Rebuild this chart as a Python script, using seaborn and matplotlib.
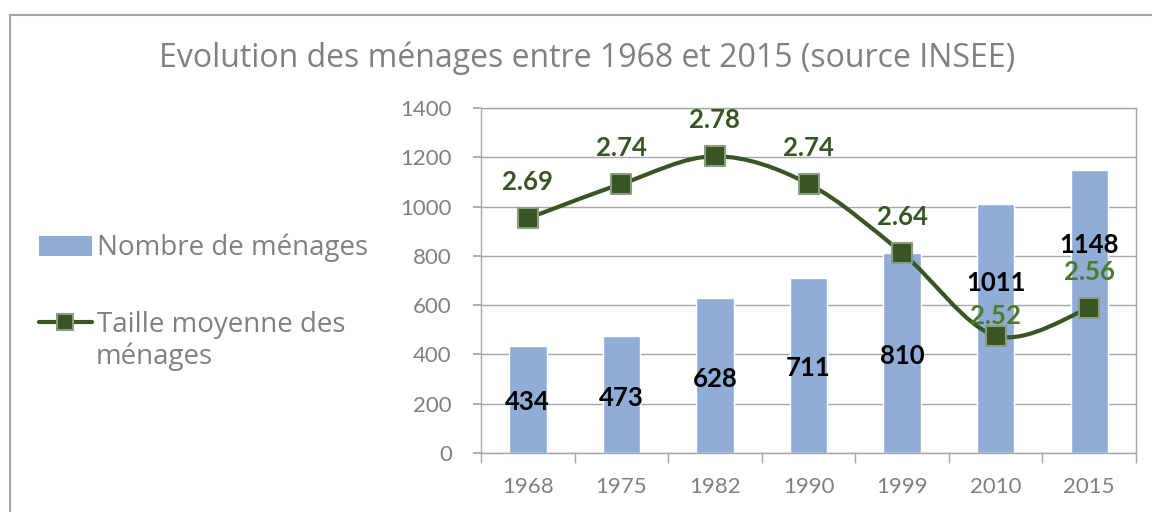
import matplotlib
matplotlib.use('Agg')
import matplotlib.pyplot as plt
import numpy as np
import pandas as pd
import seaborn as sns
from matplotlib.path import Path
from matplotlib.patches import PathPatch, Patch
from matplotlib.lines import Line2D

sns.set_theme(style='white')
plt.rcParams['font.family'] = ['Lato', 'DejaVu Sans']

# données INSEE
annees = ['1968', '1975', '1982', '1990', '1999', '2010', '2015']
nb_menages = [434, 473, 628, 711, 810, 1011, 1148]
taille_moy = [2.69, 2.74, 2.78, 2.74, 2.64, 2.52, 2.56]

df = pd.DataFrame({'annee': annees, 'menages': nb_menages, 'taille': taille_moy})
df['pos'] = np.arange(len(df))

bar_col = '#8FADD6'
vert = '#375623'
gris = '#808080'
grille = '#A6A6A6'
titre_font = ['Open Sans', 'DejaVu Sans']

fig = plt.figure(figsize=(11.52, 5.12), dpi=100)
ax = fig.add_axes([481/1152, 1-453/512, (1136-481)/1152, (453-108)/512])

sns.barplot(data=df, x='annee', y='menages', color=bar_col, width=0.4,
            saturation=1, ax=ax, zorder=2)
ax.set_xlim(-0.5, 6.5)
ax.set_ylim(0, 1400)
ax.set_yticks(range(0, 1401, 200))
ax.set_xlabel('')
ax.set_ylabel('')
ax.grid(axis='y', color=grille, lw=1, zorder=0)
ax.set_axisbelow(True)
for s in ['left', 'bottom', 'right', 'top']:
    ax.spines[s].set_color(grille)
    ax.spines[s].set_linewidth(1)
ax.tick_params(axis='y', length=6, color=grille, labelsize=16, labelcolor=gris, pad=15, left=True)
ax.tick_params(axis='x', which='major', length=0, labelsize=16, labelcolor=gris, pad=17)
ax.set_xticks(np.arange(-0.5, 7, 1), minor=True)
ax.tick_params(axis='x', which='minor', length=7, color=grille, bottom=True)

# étiquettes des barres (1011 et 1148 déplacées comme dans l'original)
label_y = {5: 690, 6: 844}
for i, v in enumerate(nb_menages):
    ax.text(i, label_y.get(i, v / 2 - 12), str(v), ha='center', va='center',
            fontsize=18.5, fontweight='bold', color='black', zorder=5)

# axe secondaire (caché) pour la taille moyenne
ax2 = ax.twinx()
ax2.set_ylim(2.35, 2.85)
ax2.set_yticks([])
for s in ax2.spines.values():
    s.set_visible(False)

# courbe lissée (Catmull-Rom -> Bezier) comme Excel
xs = df['pos'].to_numpy(float)
ys = df['taille'].to_numpy(float)
P = np.column_stack([xs, ys])
verts = [P[0]]
codes = [Path.MOVETO]
n = len(P)
for i in range(n - 1):
    p0 = P[max(i - 1, 0)]
    p1 = P[i]
    p2 = P[i + 1]
    p3 = P[min(i + 2, n - 1)]
    c1 = p1 + (p2 - p0) / 6
    c2 = p2 - (p3 - p1) / 6
    verts += [c1, c2, p2]
    codes += [Path.CURVE4] * 3
ax2.add_patch(PathPatch(Path(verts, codes), fill=False, edgecolor=vert, lw=3, zorder=3))
sns.scatterplot(data=df, x='pos', y='taille', marker='s', s=220, color=vert,
                edgecolor='#8C9C80', linewidth=1.5, ax=ax2, zorder=4, legend=False)
ax2.set_xlabel('')
ax2.set_ylabel('')
ax2.set_xlim(-0.5, 6.5)

offsets = [26, 26, 26, 26, 26, 14, 26]
lab_col = [vert, vert, vert, vert, vert, '#4F7A28', '#4F7A28']
for i, v in enumerate(taille_moy):
    ax2.annotate(f'{v:.2f}', (i, v), xytext=(0, offsets[i]), textcoords='offset points',
                 ha='center', va='center', fontsize=18.5, fontweight='bold', color=lab_col[i], zorder=6)

fig.text(0.51, 1-58/512, 'Evolution des ménages entre 1968 et 2015 (source INSEE)',
         ha='center', va='center', fontsize=23, color=gris, family=titre_font)

handles = [Patch(facecolor=bar_col, edgecolor='none'),
           Line2D([], [], color=vert, lw=3, marker='s', markersize=11,
                  markerfacecolor=vert, markeredgecolor='#8C9C80', markeredgewidth=1.5)]
leg = fig.legend(handles, ['Nombre de ménages', 'Taille moyenne des'],
                 loc='upper left', bbox_to_anchor=(14/1152, 1-209/512), frameon=False,
                 handlelength=1.9, handleheight=0.7, handletextpad=0.2, labelspacing=1.75,
                 prop={'family': titre_font, 'size': 20})
for t in leg.get_texts():
    t.set_color(gris)
fig.text(96/1152, 1-357/512, 'ménages', ha='left', va='center', fontsize=20,
         color=gris, family=titre_font)

# cadre de la zone de graphique
fig.add_artist(Line2D([10/1152, 10/1152], [0, 1-15/512], color='#A6A6A6', lw=1.5))
fig.add_artist(Line2D([10/1152, 1], [1-15/512, 1-15/512], color='#A6A6A6', lw=1.5))

plt.savefig('out.png', dpi=100)
